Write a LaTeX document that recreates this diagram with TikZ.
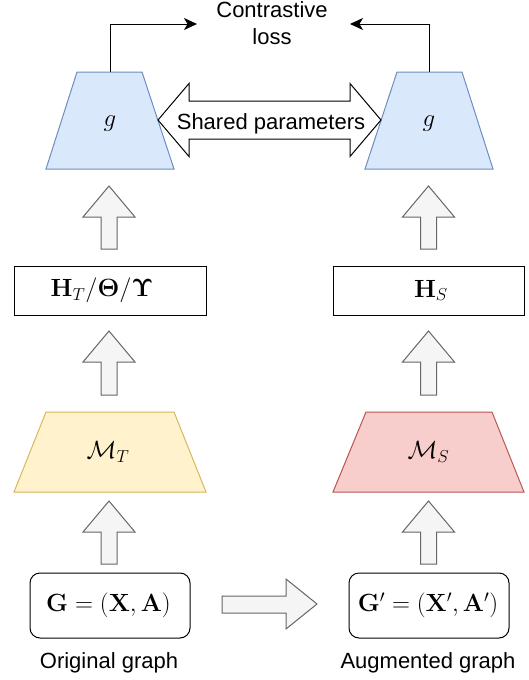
\documentclass[tikz,border=0pt]{standalone}
\usepackage[no-math]{fontspec}
\setmainfont{Liberation Sans}
\usepackage{amsmath}
\usetikzlibrary{arrows.meta}
\definecolor{gfill}{HTML}{DAE8FC}
\definecolor{gline}{HTML}{6C8EBF}
\definecolor{tfill}{HTML}{FFF2CC}
\definecolor{tline}{HTML}{D6B656}
\definecolor{sfill}{HTML}{F8CECC}
\definecolor{sline}{HTML}{B85450}
\definecolor{afill}{HTML}{F5F5F5}
\definecolor{aline}{HTML}{666666}
\newcommand\blockup[4]{%
  \draw[uparr] (#1,#2) -- (#1+26,#3) -- (#1+8,#3) -- (#1+8,#4) -- (#1-8,#4) -- (#1-8,#3) -- (#1-26,#3) -- cycle;}
\begin{document}
\begin{tikzpicture}[x=1pt,y=-1pt,
  every node/.style={font=\fontsize{22}{27}\selectfont, inner sep=0pt},
  bigmath/.style={font=\fontsize{25}{30}\selectfont},
  midmath/.style={font=\fontsize{24}{29}\selectfont},
  gshape/.style={draw=gline, fill=gfill, line width=1pt},
  tshape/.style={draw=tline, fill=tfill, line width=1pt},
  sshape/.style={draw=sline, fill=sfill, line width=1pt},
  uparr/.style={draw=aline, fill=afill, line width=1pt},
  plainbox/.style={draw=black, line width=1pt},
  roundbox/.style={draw=black, line width=1pt, rounded corners=10pt},
  conn/.style={draw=black, line width=1pt, -{Stealth[length=13pt,width=12pt,inset=3.5pt]}},
  dblarr/.style={draw=black, fill=white, line width=1pt}
]
\useasboundingbox (0,0) rectangle (529,680);

% g trapezoids
\draw[gshape] (77,72) -- (142,72) -- (174,169) -- (46,169) -- cycle;
\draw[gshape] (397,72) -- (462,72) -- (493,169) -- (365,169) -- cycle;
\node[bigmath, anchor=base] (gL) at (110,126.5) {$g$};
\node[bigmath, anchor=base] (gR) at (429,126.5) {$g$};
\coordinate (gLtop) at (110,72);
\coordinate (gRtop) at (429,72);

% contrastive loss
\node[align=center] (loss) at (272,23.5) {Contrastive\\loss};
\coordinate (lossL) at (197,24);
\coordinate (lossR) at (350,24);
\draw[conn] (gLtop) |- (lossL);
\draw[conn] (gRtop) |- (lossR);

% shared parameters double arrow
\draw[dblarr] (158,120) -- (189,83.5) -- (189,101) -- (350,101) -- (350,83.5) -- (381,120)
  -- (350,156.5) -- (350,139) -- (189,139) -- (189,156.5) -- cycle;
\node[anchor=base] (shared) at (271,129) {Shared parameters};

% up arrows
\blockup{109}{186}{217}{249}
\blockup{109}{331}{362}{395}
\blockup{109}{501}{532}{564}
\blockup{428.5}{186}{217}{249}
\blockup{428.5}{331}{362}{395}
\blockup{428.5}{501}{532}{564}

% H boxes
\draw[plainbox] (14,266) rectangle (206,315);
\draw[plainbox] (333,266) rectangle (524,315);
\node[midmath] (HT) at (102,290.5) {$\mathbf{H}_T/\mathbf{\Theta}/\mathbf{\Upsilon}$};
\node[midmath] (HS) at (431,290.5) {$\mathbf{H}_S$};

% M trapezoids
\draw[tshape] (46,412) -- (174,412) -- (206,492) -- (14,492) -- cycle;
\draw[sshape] (366,412) -- (492,412) -- (524,492) -- (333,492) -- cycle;
\node[bigmath] (MT) at (108,452) {$\mathcal{M}_T$};
\node[bigmath] (MS) at (428.5,452) {$\mathcal{M}_S$};

% graph boxes
\draw[roundbox] (30,573) rectangle (190,638);
\draw[roundbox] (349,573) rectangle (509,638);
\node[midmath] (G) at (108.5,605.5) {$\mathbf{G}=(\mathbf{X},\mathbf{A})$};
\node[midmath] (Gp) at (428,605.5) {$\mathbf{G}'=(\mathbf{X}',\mathbf{A}')$};

% horizontal block arrow
\draw[uparr] (222,596) -- (286,596) -- (286,579) -- (317,604) -- (286,629) -- (286,613) -- (222,613) -- cycle;

% captions
\node[anchor=base] (orig) at (109,668) {Original graph};
\node[anchor=base] (aug) at (428,668) {Augmented graph};
\end{tikzpicture}
\end{document}
